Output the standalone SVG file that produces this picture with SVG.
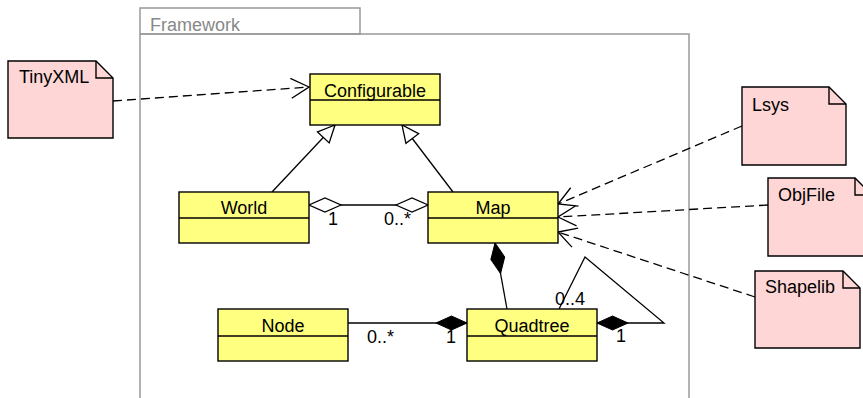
<svg xmlns="http://www.w3.org/2000/svg" width="863" height="398" viewBox="0 0 863 398">
  <style>
    text { font-family: "Liberation Sans", Arial, sans-serif; font-size: 18px; fill: #000; }
    .cls rect { fill: #ffff80; stroke: #000; stroke-width: 1.4; }
    .cls line { stroke: #000; stroke-width: 1.4; }
    .cls text { text-anchor: middle; }
    .note path { fill: #ffd6d6; stroke: #000; stroke-width: 1.4; }
    .note path.fold { fill: none; }
    .pkg { fill: none; stroke: #999; stroke-width: 1.5; }
    .pkg-label { fill: #888; }
    .edge { fill: none; stroke: #000; stroke-width: 1.3; }
    .dash { stroke-dasharray: 9 5; }
  </style>
  <defs>
    <marker id="dep" markerUnits="userSpaceOnUse" markerWidth="24" markerHeight="24" refX="20" refY="12" orient="auto" overflow="visible">
      <path d="M 2 2 L 20 12 L 2 22" fill="none" stroke="#000" stroke-width="1.3"/>
    </marker>
    <marker id="gen" markerUnits="userSpaceOnUse" markerWidth="24" markerHeight="24" refX="17" refY="12" orient="auto" overflow="visible">
      <path d="M 0 4 L 17 12 L 0 20 Z" fill="#fff" stroke="#000" stroke-width="1.3"/>
    </marker>
    <marker id="agg" markerUnits="userSpaceOnUse" markerWidth="34" markerHeight="24" refX="32" refY="12" orient="auto-start-reverse" overflow="visible">
      <path d="M 0 12 L 16 5 L 32 12 L 16 19 Z" fill="#fff" stroke="#000" stroke-width="1.3"/>
    </marker>
    <marker id="comp" markerUnits="userSpaceOnUse" markerWidth="34" markerHeight="24" refX="31" refY="12" orient="auto" overflow="visible">
      <path d="M 0 12 L 15.5 5 L 31 12 L 15.5 19 Z" fill="#000" stroke="#000" stroke-width="1"/>
    </marker>
  </defs>

  <!-- package frame -->
  <g id="framework">
    <rect class="pkg" x="140" y="8" width="220" height="26"/>
    <path class="pkg" d="M 140 34 V 400 M 140 34 H 689 V 400"/>
    <text class="pkg-label" x="150" y="30.5">Framework</text>
  </g>

  <!-- connectors -->
  <g id="connectors">
    <path class="edge dash" d="M 113 101 L 309 87" marker-end="url(#dep)"/>
    <path class="edge" d="M 272 192 L 335 125" marker-end="url(#gen)"/>
    <path class="edge" d="M 453 192 L 402 125" marker-end="url(#gen)"/>
    <path class="edge" d="M 309 205 L 428 205" marker-start="url(#agg)" marker-end="url(#agg)"/>
    <path class="edge" d="M 507 309 L 495 243" marker-end="url(#comp)"/>
    <path class="edge" d="M 348 323 L 467 323" marker-end="url(#comp)"/>
    <path class="edge" d="M 559 309 L 585 257 L 664 323 L 597 323" marker-end="url(#comp)"/>
    <path class="edge dash" d="M 742 126 L 558 204" marker-end="url(#dep)"/>
    <path class="edge dash" d="M 768 205 L 558 217" marker-end="url(#dep)"/>
    <path class="edge dash" d="M 755 297 L 558 232" marker-end="url(#dep)"/>
    <!-- multiplicities -->
    <text x="328" y="225">1</text>
    <text x="384" y="225">0..*</text>
    <text x="367" y="343">0..*</text>
    <text x="446" y="343">1</text>
    <text x="555" y="305">0..4</text>
    <text x="616" y="342">1</text>
  </g>

  <!-- classes -->
  <g id="configurable" class="cls">
    <rect x="310" y="74" width="130" height="51"/>
    <line x1="310" y1="100" x2="440" y2="100"/>
    <text x="375" y="96.5">Configurable</text>
  </g>
  <g id="world" class="cls">
    <rect x="179" y="192" width="130" height="51"/>
    <line x1="179" y1="218" x2="309" y2="218"/>
    <text x="244" y="214">World</text>
  </g>
  <g id="map" class="cls">
    <rect x="428" y="192" width="130" height="51"/>
    <line x1="428" y1="218" x2="558" y2="218"/>
    <text x="493" y="214">Map</text>
  </g>
  <g id="node" class="cls">
    <rect x="218" y="309" width="130" height="52"/>
    <line x1="218" y1="336" x2="348" y2="336"/>
    <text x="283" y="332">Node</text>
  </g>
  <g id="quadtree" class="cls">
    <rect x="467" y="309" width="130" height="52"/>
    <line x1="467" y1="336" x2="597" y2="336"/>
    <text x="532" y="332">Quadtree</text>
  </g>

  <!-- notes -->
  <g id="tinyxml" class="note">
    <path d="M 8 61 H 96 L 113 78 V 138 H 8 Z"/>
    <path class="fold" d="M 96 61 V 78 H 113"/>
    <text x="19" y="83">TinyXML</text>
  </g>
  <g id="lsys" class="note">
    <path d="M 742 87 H 829 L 846 104 V 165 H 742 Z"/>
    <path class="fold" d="M 829 87 V 104 H 846"/>
    <text x="752" y="110.5">Lsys</text>
  </g>
  <g id="objfile" class="note">
    <path d="M 768 178 H 855 L 872 195 V 256 H 768 Z"/>
    <path class="fold" d="M 855 178 V 195 H 872"/>
    <text x="778" y="201">ObjFile</text>
  </g>
  <g id="shapelib" class="note">
    <path d="M 755 271 H 843 L 860 288 V 348 H 755 Z"/>
    <path class="fold" d="M 843 271 V 288 H 860"/>
    <text x="765" y="292.5">Shapelib</text>
  </g>
</svg>
